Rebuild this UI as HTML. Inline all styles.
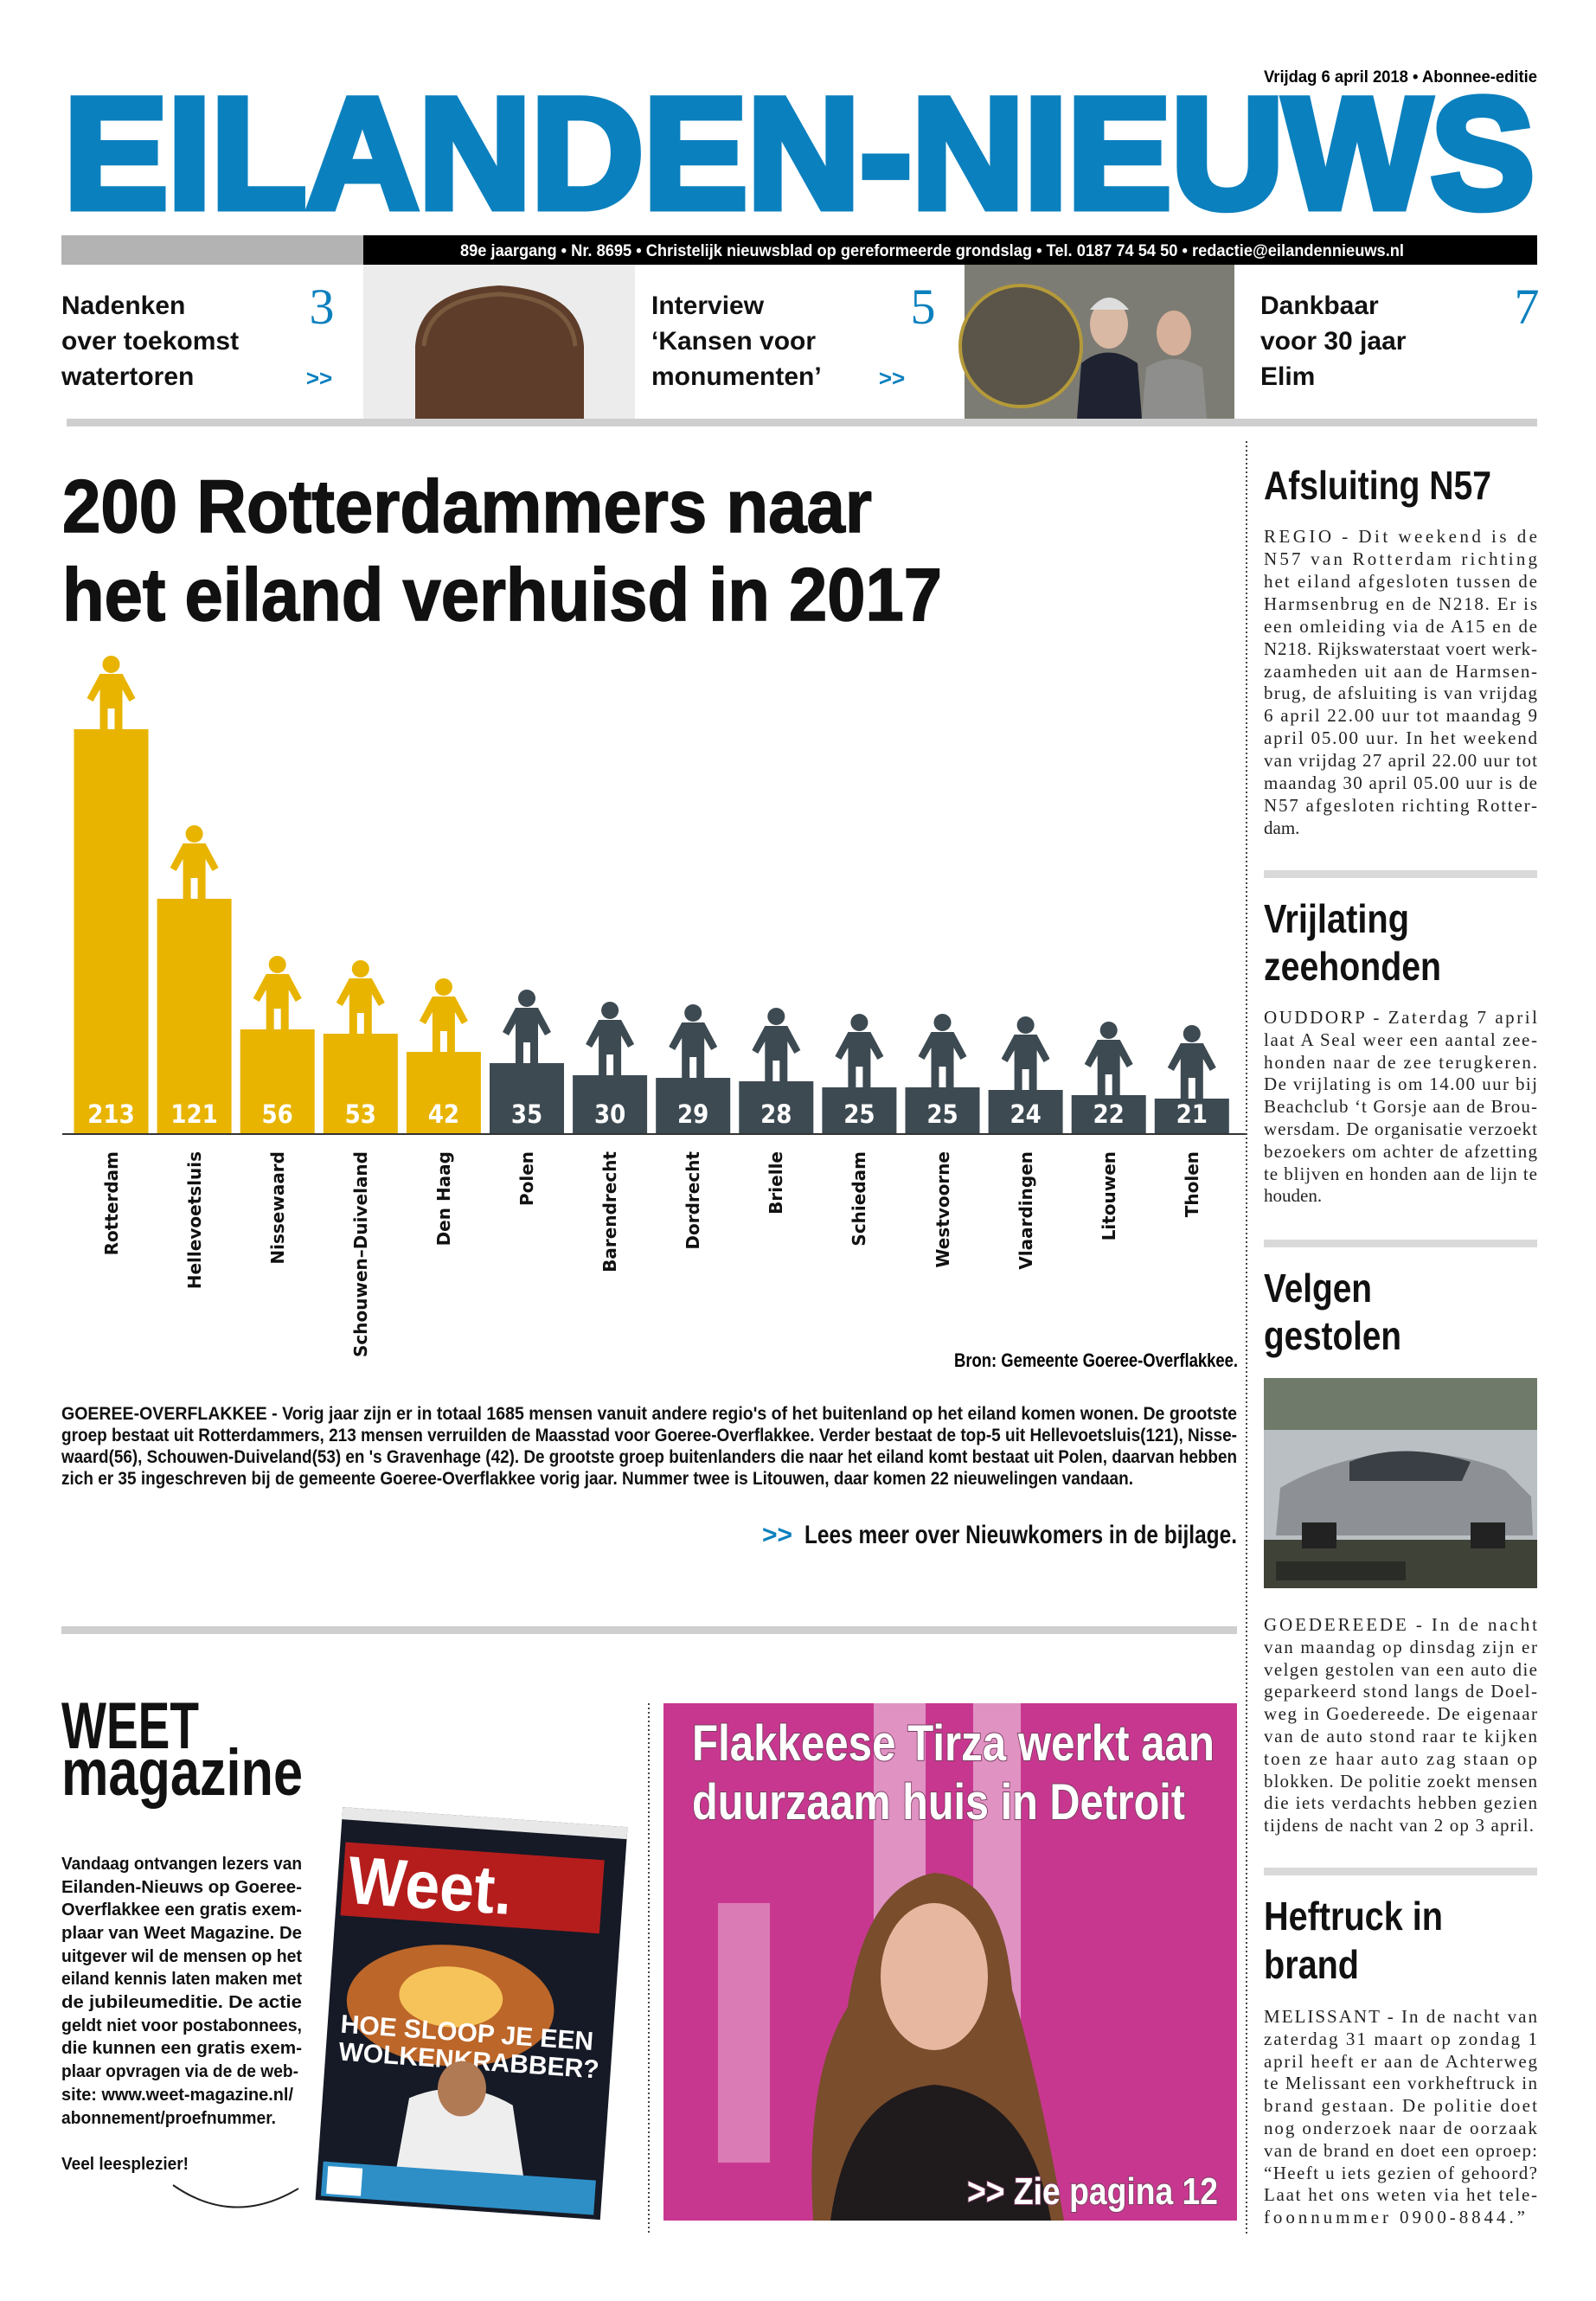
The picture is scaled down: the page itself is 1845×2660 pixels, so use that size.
<!DOCTYPE html>
<html><head><meta charset="utf-8"><style>
html,body{margin:0;padding:0;background:#fff;}
svg{display:block;}
.n{font-family:"Liberation Sans Narrow","Liberation Sans",sans-serif;font-weight:bold;}
.s{font-family:"Liberation Serif",serif;font-size:21px;fill:#222;}
.d{font-family:"DejaVu Sans",sans-serif;font-weight:bold;}
</style></head><body>
<svg width="1845" height="2660" viewBox="0 0 1845 2660" xmlns="http://www.w3.org/2000/svg">
<defs>
<path id="p" d="M-13 -64 L13 -64 L28 -36 L21 -32 L13 -46 L13 -24 L-13 -24 L-13 -46 L-21 -32 L-28 -36 Z M-13 -26 h9 v26 h-9 Z M4 -26 h9 v26 h-9 Z M0 -85 a10 10 0 1 0 0.01 0 Z"/>
</defs>
<rect width="1845" height="2660" fill="#fff"/>
<!-- header -->
<text class="n" x="1777" y="95" font-size="19" text-anchor="end" textLength="316" lengthAdjust="spacingAndGlyphs">Vrijdag 6 april 2018 • Abonnee-editie</text>
<text x="74" y="240" font-family="Liberation Sans,sans-serif" font-weight="bold" font-size="182" fill="#0b80be" stroke="#0b80be" stroke-width="9" stroke-linejoin="miter" textLength="1700" lengthAdjust="spacingAndGlyphs">EILANDEN-NIEUWS</text>
<rect x="71" y="272" width="349" height="34" fill="#b3b3b3"/>
<rect x="420" y="272" width="1357" height="34" fill="#000"/>
<text class="n" x="532" y="296" font-size="19" fill="#fff" textLength="1091" lengthAdjust="spacingAndGlyphs">89e jaargang • Nr. 8695 • Christelijk nieuwsblad op gereformeerde grondslag • Tel. 0187 74 54 50 • redactie@eilandennieuws.nl</text>
<!-- teasers -->
<g font-family="Liberation Sans,sans-serif" font-weight="bold" font-size="30" fill="#111">
<text x="71" y="363">Nadenken</text><text x="71" y="404">over toekomst</text><text x="71" y="445">watertoren</text>
<text x="753" y="363">Interview</text><text x="753" y="404">‘Kansen voor</text><text x="753" y="445">monumenten’</text>
<text x="1457" y="363">Dankbaar</text><text x="1457" y="404">voor 30 jaar</text><text x="1457" y="445">Elim</text>
</g>
<g font-family="Liberation Serif,serif" font-size="58" fill="#0b80be" text-anchor="middle">
<text x="372" y="374">3</text><text x="1067" y="374">5</text><text x="1765" y="374">7</text>
</g>
<g font-family="Liberation Sans,sans-serif" font-weight="bold" font-size="26" fill="#0b80be" text-anchor="middle">
<text x="369" y="446">&gt;&gt;</text><text x="1031" y="446">&gt;&gt;</text>
</g>
<rect x="420" y="306" width="314" height="178" fill="#ececec"/>
<path d="M480 484 L480 400 Q485 335 577 330 Q670 335 675 400 L675 484 Z" fill="#5e3d2a"/>
<path d="M490 400 Q495 345 577 340 Q660 345 665 400" fill="none" stroke="#7a5a3e" stroke-width="5"/>
<rect x="1115" y="306" width="312" height="178" fill="#7d7c74"/>
<circle cx="1180" cy="400" r="70" fill="#5a5548" stroke="#b59a3a" stroke-width="4"/>
<path d="M1245 484 L1250 420 Q1280 395 1315 420 L1320 484 Z" fill="#1f2230"/>
<ellipse cx="1282" cy="375" rx="22" ry="28" fill="#d9b8a4"/>
<path d="M1260 358 Q1282 330 1305 358" fill="#ddd"/>
<path d="M1320 484 L1325 425 Q1355 405 1390 425 L1395 484 Z" fill="#8e8e8c"/>
<ellipse cx="1357" cy="385" rx="20" ry="26" fill="#d6b09a"/>
<rect x="77" y="484" width="1700" height="9" fill="#cfcfcf"/>
<!-- dividers -->
<line x1="1441" y1="510" x2="1441" y2="2584" stroke="#444" stroke-width="2" stroke-dasharray="2 3"/>
<line x1="750" y1="1969" x2="750" y2="2584" stroke="#444" stroke-width="2" stroke-dasharray="2 3"/>
<!-- headline -->
<text class="n" x="72" y="615" font-size="86" fill="#111" stroke="#111" stroke-width="1.5" textLength="936" lengthAdjust="spacingAndGlyphs">200 Rotterdammers naar</text>
<text class="n" x="72" y="717" font-size="86" fill="#111" stroke="#111" stroke-width="1.5" textLength="1017" lengthAdjust="spacingAndGlyphs">het eiland verhuisd in 2017</text>
<!-- chart -->
<g fill="#e8b400">
<rect x="85.5" y="843" width="86" height="468"/><use href="#p" x="128.5" y="843"/>
<rect x="181.6" y="1039" width="86" height="272"/><use href="#p" x="224.6" y="1039"/>
<rect x="277.7" y="1190" width="86" height="121"/><use href="#p" x="320.7" y="1190"/>
<rect x="373.8" y="1195" width="86" height="116"/><use href="#p" x="416.8" y="1195"/>
<rect x="469.9" y="1216" width="86" height="95"/><use href="#p" x="512.9" y="1216"/>
</g>
<g fill="#3d4a52">
<rect x="566" y="1229" width="86" height="82"/><use href="#p" x="609" y="1229"/>
<rect x="662.1" y="1243" width="86" height="68"/><use href="#p" x="705.1" y="1243"/>
<rect x="758.2" y="1246" width="86" height="65"/><use href="#p" x="801.2" y="1246"/>
<rect x="854.3" y="1250" width="86" height="61"/><use href="#p" x="897.3" y="1250"/>
<rect x="950.4" y="1257" width="86" height="54"/><use href="#p" x="993.4" y="1257"/>
<rect x="1046.5" y="1257" width="86" height="54"/><use href="#p" x="1089.5" y="1257"/>
<rect x="1142.6" y="1260" width="86" height="51"/><use href="#p" x="1185.6" y="1260"/>
<rect x="1238.7" y="1266" width="86" height="45"/><use href="#p" x="1281.7" y="1266"/>
<rect x="1334.8" y="1270" width="86" height="41"/><use href="#p" x="1377.8" y="1270"/>
</g>
<line x1="72" y1="1311" x2="1440" y2="1311" stroke="#333" stroke-width="2"/>
<g font-family="DejaVu Sans Condensed,DejaVu Sans,sans-serif" font-weight="bold" font-size="29" fill="#fff" text-anchor="middle">
<text x="128.5" y="1298">213</text><text x="224.6" y="1298">121</text><text x="320.7" y="1298">56</text><text x="416.8" y="1298">53</text><text x="512.9" y="1298">42</text><text x="609" y="1298">35</text><text x="705.1" y="1298">30</text><text x="801.2" y="1298">29</text><text x="897.3" y="1298">28</text><text x="993.4" y="1298">25</text><text x="1089.5" y="1298">25</text><text x="1185.6" y="1298">24</text><text x="1281.7" y="1298">22</text><text x="1377.8" y="1298">21</text>
</g>
<g class="d" font-size="20" fill="#111" text-anchor="end">
<text transform="translate(136,1331) rotate(-90)">Rotterdam</text>
<text transform="translate(232,1331) rotate(-90)">Hellevoetsluis</text>
<text transform="translate(328,1331) rotate(-90)">Nissewaard</text>
<text transform="translate(424,1331) rotate(-90)">Schouwen–Duiveland</text>
<text transform="translate(520,1331) rotate(-90)">Den Haag</text>
<text transform="translate(616,1331) rotate(-90)">Polen</text>
<text transform="translate(712,1331) rotate(-90)">Barendrecht</text>
<text transform="translate(808,1331) rotate(-90)">Dordrecht</text>
<text transform="translate(904,1331) rotate(-90)">Brielle</text>
<text transform="translate(1000,1331) rotate(-90)">Schiedam</text>
<text transform="translate(1097,1331) rotate(-90)">Westvoorne</text>
<text transform="translate(1193,1331) rotate(-90)">Vlaardingen</text>
<text transform="translate(1289,1331) rotate(-90)">Litouwen</text>
<text transform="translate(1385,1331) rotate(-90)">Tholen</text>
</g>
<text class="n" x="1431" y="1580" font-size="22" text-anchor="end" textLength="328" lengthAdjust="spacingAndGlyphs">Bron: Gemeente Goeree-Overflakkee.</text>
<!-- article -->
<g class="n" font-size="21" fill="#111">
<text x="71" y="1641" textLength="1359" lengthAdjust="spacingAndGlyphs">GOEREE-OVERFLAKKEE - Vorig jaar zijn er in totaal 1685 mensen vanuit andere regio's of het buitenland op het eiland komen wonen. De grootste</text>
<text x="71" y="1666" textLength="1359" lengthAdjust="spacingAndGlyphs">groep bestaat uit Rotterdammers, 213 mensen verruilden de Maasstad voor Goeree-Overflakkee. Verder bestaat de top-5 uit Hellevoetsluis(121), Nisse-</text>
<text x="71" y="1691" textLength="1359" lengthAdjust="spacingAndGlyphs">waard(56), Schouwen-Duiveland(53) en 's Gravenhage (42). De grootste groep buitenlanders die naar het eiland komt bestaat uit Polen, daarvan hebben</text>
<text x="71" y="1716" textLength="1239" lengthAdjust="spacingAndGlyphs">zich er 35 ingeschreven bij de gemeente Goeree-Overflakkee vorig jaar. Nummer twee is Litouwen, daar komen 22 nieuwelingen vandaan.</text>
</g>
<text class="n" x="881" y="1784" font-size="30" fill="#0b80be">&gt;&gt;</text>
<text class="n" x="930" y="1784" font-size="30" fill="#111" textLength="500" lengthAdjust="spacingAndGlyphs">Lees meer over Nieuwkomers in de bijlage.</text>
<rect x="71" y="1880" width="1359" height="9" fill="#cfcfcf"/>
<!-- WEET -->
<text class="n" x="71" y="2021" font-size="76" fill="#111" textLength="159" lengthAdjust="spacingAndGlyphs">WEET</text>
<text class="n" x="71" y="2075" font-size="76" fill="#111" textLength="279" lengthAdjust="spacingAndGlyphs">magazine</text>
<g class="n" font-size="20" fill="#111">
<text x="71" y="2161" textLength="278" lengthAdjust="spacingAndGlyphs">Vandaag ontvangen lezers van</text>
<text x="71" y="2188" textLength="278" lengthAdjust="spacingAndGlyphs">Eilanden-Nieuws op Goeree-</text>
<text x="71" y="2214" textLength="278" lengthAdjust="spacingAndGlyphs">Overflakkee een gratis exem-</text>
<text x="71" y="2241" textLength="278" lengthAdjust="spacingAndGlyphs">plaar van Weet Magazine. De</text>
<text x="71" y="2268" textLength="278" lengthAdjust="spacingAndGlyphs">uitgever wil de mensen op het</text>
<text x="71" y="2294" textLength="278" lengthAdjust="spacingAndGlyphs">eiland kennis laten maken met</text>
<text x="71" y="2321" textLength="278" lengthAdjust="spacingAndGlyphs">de jubileumeditie. De actie</text>
<text x="71" y="2348" textLength="278" lengthAdjust="spacingAndGlyphs">geldt niet voor postabonnees,</text>
<text x="71" y="2374" textLength="278" lengthAdjust="spacingAndGlyphs">die kunnen een gratis exem-</text>
<text x="71" y="2401" textLength="274" lengthAdjust="spacingAndGlyphs">plaar opvragen via de de web-</text>
<text x="71" y="2428" textLength="268" lengthAdjust="spacingAndGlyphs">site: www.weet-magazine.nl/</text>
<text x="71" y="2455" textLength="248" lengthAdjust="spacingAndGlyphs">abonnement/proefnummer.</text>
<text x="71" y="2508" textLength="147" lengthAdjust="spacingAndGlyphs">Veel leesplezier!</text>
</g>
<path d="M200 2526 Q270 2575 345 2530" fill="none" stroke="#222" stroke-width="2"/>
<g transform="rotate(4 543 2328)">
<rect x="380" y="2100" width="330" height="455" fill="#151a26"/>
<rect x="380" y="2100" width="330" height="14" fill="#e8e8e8"/>
<rect x="386" y="2140" width="300" height="85" fill="#b51d1d"/>
<text x="392" y="2210" font-family="Liberation Sans,sans-serif" font-weight="bold" font-size="78" fill="#fff" textLength="190" lengthAdjust="spacingAndGlyphs">Weet.</text>
<ellipse cx="520" cy="2320" rx="120" ry="70" fill="#d9742a" opacity="0.85"/>
<ellipse cx="520" cy="2310" rx="60" ry="35" fill="#f6c25a"/>
<text x="395" y="2360" font-family="Liberation Sans Narrow,sans-serif" font-weight="bold" font-size="30" fill="#fff">HOE SLOOP JE EEN</text>
<text x="395" y="2392" font-family="Liberation Sans Narrow,sans-serif" font-weight="bold" font-size="30" fill="#fff">WOLKENKRABBER?</text>
<path d="M470 2520 L480 2430 Q540 2400 600 2430 L620 2520 Z" fill="#eee"/>
<ellipse cx="540" cy="2415" rx="28" ry="32" fill="#b07a55"/>
<rect x="386" y="2510" width="316" height="40" fill="#2e8fc7"/>
<rect x="392" y="2515" width="40" height="32" fill="#fff"/>
</g>
<!-- pink feature -->
<rect x="767" y="1969" width="663" height="598" fill="#c8378f"/>
<rect x="1010" y="1969" width="60" height="598" fill="#e6a9d0" opacity="0.8"/>
<rect x="1125" y="1969" width="55" height="450" fill="#e6a9d0" opacity="0.8"/>
<rect x="830" y="2200" width="60" height="300" fill="#e6a9d0" opacity="0.6"/>
<path d="M940 2567 Q930 2400 980 2320 Q1000 2180 1080 2165 Q1160 2170 1170 2300 Q1200 2400 1230 2567 Z" fill="#7a4d2c"/>
<ellipse cx="1080" cy="2285" rx="62" ry="85" fill="#e7b79f"/>
<path d="M960 2567 Q980 2420 1080 2410 Q1190 2420 1215 2567 Z" fill="#1f1a1c"/>
<g class="n" fill="#fff" font-size="58" style="paint-order:stroke" stroke="#7a3b60" stroke-width="2">
<text x="800" y="2035" textLength="604" lengthAdjust="spacingAndGlyphs">Flakkeese Tirza werkt aan</text>
<text x="800" y="2103" textLength="570" lengthAdjust="spacingAndGlyphs">duurzaam huis in Detroit</text>
<text x="1118" y="2548" font-size="44" textLength="290" lengthAdjust="spacingAndGlyphs">&gt;&gt; Zie pagina 12</text>
</g>
<!-- right column -->
<g class="n" font-size="46" fill="#111">
<text x="1461" y="577" textLength="263" lengthAdjust="spacingAndGlyphs">Afsluiting N57</text>
<text x="1461" y="1078" textLength="168" lengthAdjust="spacingAndGlyphs">Vrijlating</text>
<text x="1461" y="1133" textLength="205" lengthAdjust="spacingAndGlyphs">zeehonden</text>
<text x="1461" y="1505" textLength="125" lengthAdjust="spacingAndGlyphs">Velgen</text>
<text x="1461" y="1560" textLength="159" lengthAdjust="spacingAndGlyphs">gestolen</text>
<text x="1461" y="2231" textLength="207" lengthAdjust="spacingAndGlyphs">Heftruck in</text>
<text x="1461" y="2287" textLength="110" lengthAdjust="spacingAndGlyphs">brand</text>
</g>
<rect x="1461" y="1006" width="316" height="9" fill="#d9d9d9"/>
<rect x="1461" y="1433" width="316" height="9" fill="#d9d9d9"/>
<rect x="1461" y="2159" width="316" height="9" fill="#d9d9d9"/>
<g class="s">
<text x="1461" y="627" textLength="316" lengthAdjust="spacing">REGIO - Dit weekend is de</text>
<text x="1461" y="653" textLength="316" lengthAdjust="spacing">N57 van Rotterdam richting</text>
<text x="1461" y="679" textLength="316" lengthAdjust="spacing">het eiland afgesloten tussen de</text>
<text x="1461" y="705" textLength="316" lengthAdjust="spacing">Harmsenbrug en de N218. Er is</text>
<text x="1461" y="731" textLength="316" lengthAdjust="spacing">een omleiding via de A15 en de</text>
<text x="1461" y="757" textLength="316" lengthAdjust="spacing">N218. Rijkswaterstaat voert werk-</text>
<text x="1461" y="783" textLength="316" lengthAdjust="spacing">zaamheden uit aan de Harmsen-</text>
<text x="1461" y="808" textLength="316" lengthAdjust="spacing">brug, de afsluiting is van vrijdag</text>
<text x="1461" y="834" textLength="316" lengthAdjust="spacing">6 april 22.00 uur tot maandag 9</text>
<text x="1461" y="860" textLength="316" lengthAdjust="spacing">april 05.00 uur. In het weekend</text>
<text x="1461" y="886" textLength="316" lengthAdjust="spacing">van vrijdag 27 april 22.00 uur tot</text>
<text x="1461" y="912" textLength="316" lengthAdjust="spacing">maandag 30 april 05.00 uur is de</text>
<text x="1461" y="938" textLength="316" lengthAdjust="spacing">N57 afgesloten richting Rotter-</text>
<text x="1461" y="964">dam.</text>
<text x="1461" y="1183" textLength="316" lengthAdjust="spacing">OUDDORP - Zaterdag 7 april</text>
<text x="1461" y="1209" textLength="316" lengthAdjust="spacing">laat A Seal weer een aantal zee-</text>
<text x="1461" y="1235" textLength="316" lengthAdjust="spacing">honden naar de zee terugkeren.</text>
<text x="1461" y="1260" textLength="316" lengthAdjust="spacing">De vrijlating is om 14.00 uur bij</text>
<text x="1461" y="1286" textLength="316" lengthAdjust="spacing">Beachclub ‘t Gorsje aan de Brou-</text>
<text x="1461" y="1312" textLength="316" lengthAdjust="spacing">wersdam. De organisatie verzoekt</text>
<text x="1461" y="1338" textLength="316" lengthAdjust="spacing">bezoekers om achter de afzetting</text>
<text x="1461" y="1364" textLength="316" lengthAdjust="spacing">te blijven en honden aan de lijn te</text>
<text x="1461" y="1389">houden.</text>
<text x="1461" y="1885" textLength="316" lengthAdjust="spacing">GOEDEREEDE - In de nacht</text>
<text x="1461" y="1911" textLength="316" lengthAdjust="spacing">van maandag op dinsdag zijn er</text>
<text x="1461" y="1937" textLength="316" lengthAdjust="spacing">velgen gestolen van een auto die</text>
<text x="1461" y="1962" textLength="316" lengthAdjust="spacing">geparkeerd stond langs de Doel-</text>
<text x="1461" y="1988" textLength="316" lengthAdjust="spacing">weg in Goedereede. De eigenaar</text>
<text x="1461" y="2014" textLength="316" lengthAdjust="spacing">van de auto stond raar te kijken</text>
<text x="1461" y="2040" textLength="316" lengthAdjust="spacing">toen ze haar auto zag staan op</text>
<text x="1461" y="2066" textLength="316" lengthAdjust="spacing">blokken. De politie zoekt mensen</text>
<text x="1461" y="2091" textLength="316" lengthAdjust="spacing">die iets verdachts hebben gezien</text>
<text x="1461" y="2117" textLength="312" lengthAdjust="spacing">tijdens de nacht van 2 op 3 april.</text>
<text x="1461" y="2338" textLength="316" lengthAdjust="spacing">MELISSANT - In de nacht van</text>
<text x="1461" y="2364" textLength="316" lengthAdjust="spacing">zaterdag 31 maart op zondag 1</text>
<text x="1461" y="2390" textLength="316" lengthAdjust="spacing">april heeft er aan de Achterweg</text>
<text x="1461" y="2415" textLength="316" lengthAdjust="spacing">te Melissant een vorkheftruck in</text>
<text x="1461" y="2441" textLength="316" lengthAdjust="spacing">brand gestaan. De politie doet</text>
<text x="1461" y="2467" textLength="316" lengthAdjust="spacing">nog onderzoek naar de oorzaak</text>
<text x="1461" y="2493" textLength="316" lengthAdjust="spacing">van de brand en doet een oproep:</text>
<text x="1461" y="2519" textLength="316" lengthAdjust="spacing">“Heeft u iets gezien of gehoord?</text>
<text x="1461" y="2544" textLength="316" lengthAdjust="spacing">Laat het ons weten via het tele-</text>
<text x="1461" y="2570" textLength="302" lengthAdjust="spacing">foonnummer 0900-8844.”</text>
</g>
<!-- car image -->
<rect x="1461" y="1593" width="316" height="243" fill="#b9bfc2"/>
<rect x="1461" y="1593" width="316" height="60" fill="#6f7a6a"/>
<rect x="1461" y="1780" width="316" height="56" fill="#3f4236"/>
<path d="M1475 1775 L1480 1720 Q1530 1690 1600 1680 Q1680 1675 1740 1700 L1770 1730 L1772 1775 Z" fill="#8d9195"/>
<path d="M1560 1690 Q1620 1665 1700 1690 L1690 1712 L1560 1712 Z" fill="#3a3f45"/>
<rect x="1505" y="1760" width="40" height="30" fill="#222"/>
<rect x="1700" y="1760" width="40" height="30" fill="#222"/>
<rect x="1475" y="1805" width="150" height="22" fill="#2a2d27"/>
</svg>
</body></html>
